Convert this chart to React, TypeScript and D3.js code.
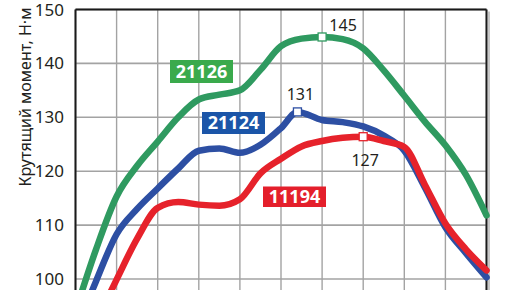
import React from "react";
import * as d3 from "d3";

const yTicks = [100, 110, 120, 130, 140, 150];
const xGrid = [1000, 1500, 2000, 2500, 3000, 3500, 4000, 4500, 5000, 5500, 6000];

const greenRpm = [1000,1250,1500,1750,2000,2250,2500,2750,3000,3250,3500,3750,4000,4250,4500,4750,5000,5250,5500,5750,6000];
const greenVals = [94,105.5,115.3,121,125.5,130,133.3,134.2,135,138.8,143.2,144.6,144.9,144.5,142.8,138.7,134,129.2,124.8,119.3,111.8];

const blueRpm = [1000,1250,1500,1750,2000,2250,2500,2750,3000,3250,3500,3700,4000,4250,4500,4750,5000,5250,5500,5750,6000];
const blueVals = [90,99.6,108.3,113,116.8,120.5,123.8,124.2,123.4,124.9,128,131,129.5,129.1,128.3,126.6,123.8,117,109.6,104.8,100.3];

const redRpm = [1250,1500,1750,2000,2250,2500,2750,3000,3250,3500,3750,4000,4250,4500,4750,5000,5250,5500,5750,6000];
const redVals = [92,99.9,107.5,113.2,114.3,113.8,113.6,114.8,119.6,122.3,124.6,125.6,126.2,126.4,125.6,124.5,117.5,110.3,105.5,101.6];

const seriesNames = ["21126", "21124", "11194"];
const peakLabels = ["145", "131", "127"];
const peakRpm = [4000, 3700, 4500];

const FONT = "'Noto Sans', 'Open Sans', sans-serif";

export default function App() {
  const x = d3.scaleLinear().domain([1000, 6000]).range([75.5, 486.5]);
  const y = d3.scaleLinear().domain([100, 150]).range([279, 9.5]);
  const line = d3
    .line<[number, number]>()
    .x((d) => x(d[0]))
    .y((d) => y(d[1]))
    .curve(d3.curveMonotoneX);

  const series = [
    { rpm: greenRpm, vals: greenVals, color: "#2f9a60", box: "#3aaa4c" },
    { rpm: blueRpm, vals: blueVals, color: "#2d4fa3", box: "#1b55a8" },
    { rpm: redRpm, vals: redVals, color: "#e6222b", box: "#e41f2b" },
  ];

  const boxes = [
    { x0: 170, y0: 60, w: 63, h: 23 },
    { x0: 202, y0: 112, w: 63, h: 22 },
    { x0: 263, y0: 186.5, w: 63, h: 20.5 },
  ];

  const peakVal = (i: number) => {
    const s = series[i];
    const k = s.rpm.indexOf(peakRpm[i]);
    return s.vals[k];
  };

  const labelOffsets = [
    { dx: 21, dy: -6, anchor: "middle" },
    { dx: 3, dy: -12, anchor: "middle" },
    { dx: 2, dy: 29, anchor: "middle" },
  ];

  return (
    <svg
      width={516}
      height={290}
      style={{ position: "absolute", left: 0, top: 0, background: "#fff" }}
      fontFamily={FONT}
    >
      <rect x={0} y={0} width={516} height={290} fill="#fff" />
      {/* grid */}
      {yTicks.map((t) => (
        <line key={"h" + t} x1={x(1000)} x2={x(6000)} y1={y(t)} y2={y(t)} stroke="#a3a3a3" strokeWidth={1.6} />
      ))}
      {xGrid.map((t) => (
        <line key={"v" + t} x1={x(t)} x2={x(t)} y1={y(150)} y2={300} stroke="#a3a3a3" strokeWidth={1.4} />
      ))}
      {/* shadow & frame */}
      <line x1={x(6000) + 2.5} x2={x(6000) + 2.5} y1={y(150) + 2} y2={300} stroke="#c8c8c8" strokeWidth={2} />
      <line x1={x(1000)} x2={x(6000)} y1={y(150)} y2={y(150)} stroke="#1a1a1a" strokeWidth={2} />
      <line x1={x(1000)} x2={x(1000)} y1={y(150)} y2={300} stroke="#1a1a1a" strokeWidth={2} />
      <line x1={x(6000)} x2={x(6000)} y1={y(150)} y2={300} stroke="#1a1a1a" strokeWidth={2} />
      {/* y tick labels */}
      {yTicks.map((t) => (
        <text key={"t" + t} x={64} y={t === 150 ? y(t) + 0.5 : y(t)} dy="0.35em" textAnchor="end" fontSize={17} fill="#231f20">
          {t}
        </text>
      ))}
      <text
        transform={`translate(31,97) rotate(-90)`}
        textAnchor="middle"
        fontSize={16}
        fill="#231f20"
      >
        Крутящий момент, Н·м
      </text>
      {/* lines */}
      <g>
        {series.map((s, i) => (
          <path
            key={i}
            d={line(s.rpm.map((r, k) => [r, s.vals[k]] as [number, number])) || ""}
            fill="none"
            stroke={s.color}
            strokeWidth={6.5}
            strokeLinejoin="round"
            strokeLinecap="round"
          />
        ))}
      </g>
      {/* peak markers */}
      {series.map((s, i) => (
        <rect
          key={"m" + i}
          x={x(peakRpm[i]) - 4}
          y={y(peakVal(i)) - 4}
          width={8}
          height={8}
          fill="#fff"
          stroke={s.color}
          strokeWidth={1.3}
        />
      ))}
      {series.map((s, i) => (
        <text
          key={"pl" + i}
          x={x(peakRpm[i]) + labelOffsets[i].dx}
          y={y(peakVal(i)) + labelOffsets[i].dy}
          textAnchor={labelOffsets[i].anchor as any}
          fontSize={16}
          fill="#231f20"
        >
          {peakLabels[i]}
        </text>
      ))}
      {/* series name boxes */}
      {series.map((s, i) => (
        <g key={"b" + i}>
          <rect x={boxes[i].x0} y={boxes[i].y0} width={boxes[i].w} height={boxes[i].h} fill={s.box} />
          <text
            x={boxes[i].x0 + boxes[i].w / 2}
            y={boxes[i].y0 + boxes[i].h / 2}
            dy="0.36em"
            textAnchor="middle"
            fontSize={18}
            fontWeight="bold"
            fill="#fff"
          >
            {seriesNames[i]}
          </text>
        </g>
      ))}
    </svg>
  );
}
